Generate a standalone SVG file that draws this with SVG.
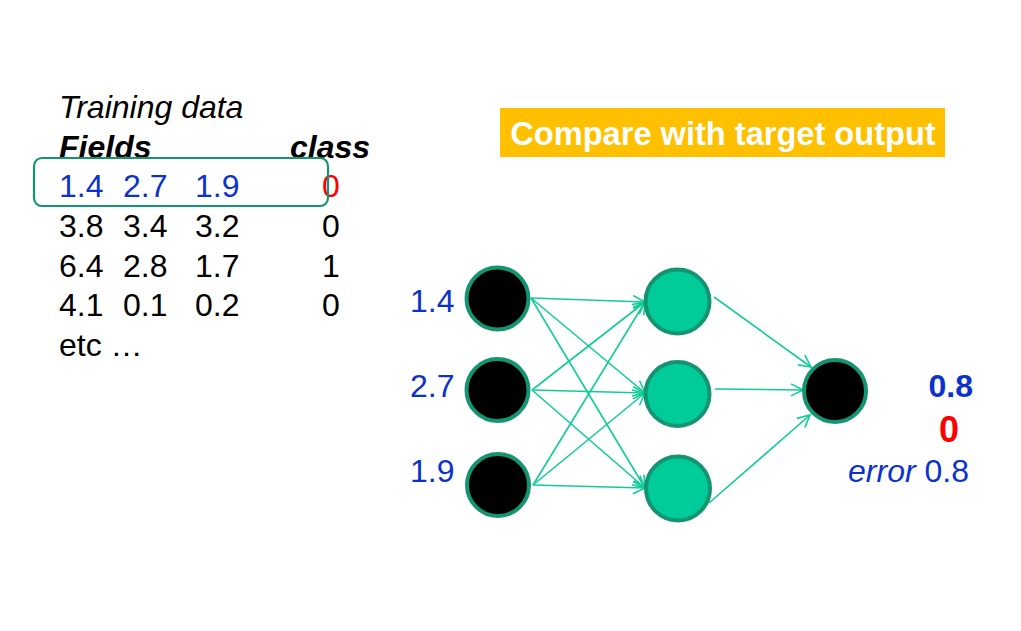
<svg xmlns="http://www.w3.org/2000/svg" width="1021" height="631" viewBox="0 0 1021 631">
<style>
text{font-family:"Liberation Sans",Arial,sans-serif;font-size:32px}
.blk{fill:#000}
.blue{fill:#0B33CC}
.red{fill:#FF0000}
.it{font-style:italic}
.bi{font-style:italic;font-weight:bold}
.in{fill:#000;stroke:#159471;stroke-width:4}
.hid{fill:#00CC99;stroke:#159471;stroke-width:4}
.conn{stroke:#11CC99;stroke-width:1.6;fill:none;marker-end:url(#arr)}
</style>
<defs>
<marker id="arr" markerUnits="userSpaceOnUse" markerWidth="16" markerHeight="16" refX="13" refY="7" orient="auto">
<path d="M1,1 L13,7 L1,13" fill="none" stroke="#11CC99" stroke-width="1.6"/>
</marker>
<clipPath id="fclip"><rect x="0" y="0" width="1021" height="157"/></clipPath>
</defs>
<rect width="1021" height="631" fill="#fff"/>

<g id="table">
<text x="59" y="118" class="blk it">Training data</text>
<text x="59" y="158" class="blk bi" clip-path="url(#fclip)">Fields</text>
<text x="290" y="158" class="blk bi">class</text>
<text x="59" y="197" class="blue">1.4</text>
<text x="123" y="197" class="blue">2.7</text>
<text x="195" y="197" class="blue">1.9</text>
<text x="322" y="197" class="red">0</text>
<text x="59" y="237" class="blk">3.8</text>
<text x="123" y="237" class="blk">3.4</text>
<text x="195" y="237" class="blk">3.2</text>
<text x="322" y="237" class="blk">0</text>
<text x="59" y="277" class="blk">6.4</text>
<text x="123" y="277" class="blk">2.8</text>
<text x="195" y="277" class="blk">1.7</text>
<text x="322" y="277" class="blk">1</text>
<text x="59" y="316" class="blk">4.1</text>
<text x="123" y="316" class="blk">0.1</text>
<text x="195" y="316" class="blk">0.2</text>
<text x="322" y="316" class="blk">0</text>
<text x="59" y="356" class="blk">etc …</text>
</g>
<g id="highlight">
<rect x="34" y="158" width="294" height="48" rx="8" fill="none" stroke="#159471" stroke-width="2.2"/>
</g>

<g id="banner">
<rect x="500" y="108" width="445" height="49" fill="#FFC000"/>
<text x="723" y="145" text-anchor="middle" font-weight="bold" fill="#fff" style="font-size:32.6px">Compare with target output</text>
</g>

<g id="connectors">
<line class="conn" x1="531" y1="298" x2="645" y2="302"/>
<line class="conn" x1="531" y1="298" x2="645" y2="393"/>
<line class="conn" x1="531" y1="298" x2="645" y2="488"/>
<line class="conn" x1="532" y1="390" x2="645" y2="302"/>
<line class="conn" x1="532" y1="390" x2="645" y2="393"/>
<line class="conn" x1="532" y1="390" x2="645" y2="488"/>
<line class="conn" x1="533" y1="485" x2="645" y2="302"/>
<line class="conn" x1="533" y1="485" x2="645" y2="393"/>
<line class="conn" x1="533" y1="485" x2="645" y2="488"/>
<line class="conn" x1="714" y1="297" x2="811" y2="367"/>
<line class="conn" x1="715" y1="389" x2="803" y2="390"/>
<line class="conn" x1="709" y1="503" x2="810" y2="415"/>
</g>

<g id="in1"><circle class="in" cx="497.5" cy="298.5" r="31"/></g>
<g id="in2"><circle class="in" cx="497.5" cy="390" r="31"/></g>
<g id="in3"><circle class="in" cx="498" cy="485" r="31"/></g>
<g id="h1"><circle class="hid" cx="677.5" cy="301.5" r="32"/></g>
<g id="h2"><circle class="hid" cx="677.5" cy="394" r="32"/></g>
<g id="h3"><circle class="hid" cx="678" cy="488.5" r="32"/></g>
<g id="out"><circle class="in" cx="835" cy="391" r="31"/></g>

<g id="labels">
<text x="410" y="312" class="blue">1.4</text>
<text x="410" y="397" class="blue">2.7</text>
<text x="410" y="482" class="blue">1.9</text>
<text x="973" y="397" text-anchor="end" font-weight="bold" class="blue">0.8</text>
<text x="949" y="442" text-anchor="middle" font-weight="bold" class="red" style="font-size:36px">0</text>
<text x="969" y="482" text-anchor="end" class="blue"><tspan font-style="italic">error</tspan> 0.8</text>
</g>
</svg>
